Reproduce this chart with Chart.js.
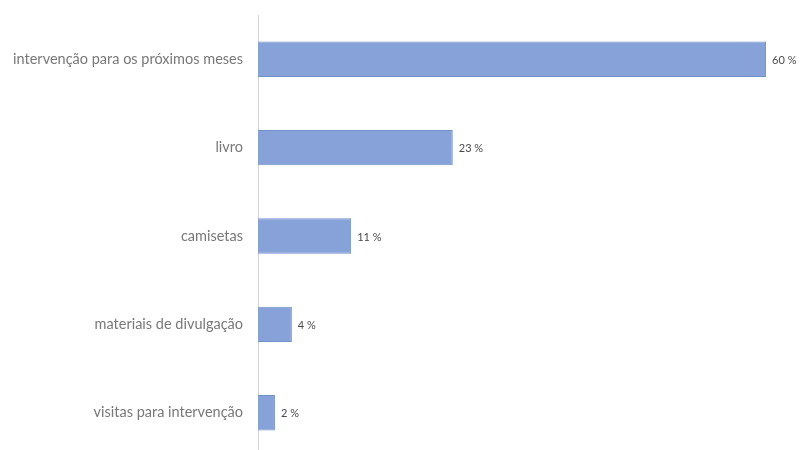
<!DOCTYPE html>
<html>
<head>
<meta charset="utf-8">
<script src="https://cdn.jsdelivr.net/npm/chart.js@4"></script>
<style>
html,body{margin:0;padding:0;background:#fff;overflow:hidden;}
</style>
</head>
<body>
<canvas id="c" width="801" height="462"></canvas>
<script>
const categories = ["intervenção para os próximos meses", "livro", "camisetas", "materiais de divulgação", "visitas para intervenção"];
const values = [60, 23, 11, 4, 2];
const valueLabels = ["60 %", "23 %", "11 %", "4 %", "2 %"];

const dataLabelPlugin = {
  id: 'dataLabels',
  afterDatasetsDraw(chart) {
    const ctx = chart.ctx;
    const meta = chart.getDatasetMeta(0);
    ctx.save();
    ctx.font = '11px Lato, sans-serif';
    ctx.fillStyle = '#4a4a4a';
    ctx.textAlign = 'left';
    ctx.textBaseline = 'middle';
    meta.data.forEach((bar, i) => {
      ctx.fillText(valueLabels[i], bar.x + 6, bar.y + 1);
    });
    ctx.restore();
  }
};

new Chart(document.getElementById('c'), {
  type: 'bar',
  data: {
    labels: categories,
    datasets: [{
      data: values,
      backgroundColor: '#86a2d8',
      borderColor: '#7190c8',
      borderWidth: 1,
      barPercentage: 0.4,
      categoryPercentage: 1.0
    }]
  },
  options: {
    indexAxis: 'y',
    responsive: false,
    animation: false,
    layout: { padding: { top: 15, bottom: 5, left: 0, right: 18 } },
    plugins: { legend: { display: false }, tooltip: { enabled: false } },
    scales: {
      x: {
        display: false,
        min: 0,
        max: 62
      },
      y: {
        grid: { display: false, drawTicks: false },
        border: { display: true, color: '#d4d4d4', width: 1 },
        ticks: {
          color: '#787878',
          font: { family: 'Lato, sans-serif', size: 14.5 },
          padding: 15
        },
        afterFit(scale) {
          scale.width = 258;
          scale.paddingTop = 0;
          scale.paddingBottom = 0;
        }
      }
    }
  },
  plugins: [dataLabelPlugin]
});
</script>
</body>
</html>
